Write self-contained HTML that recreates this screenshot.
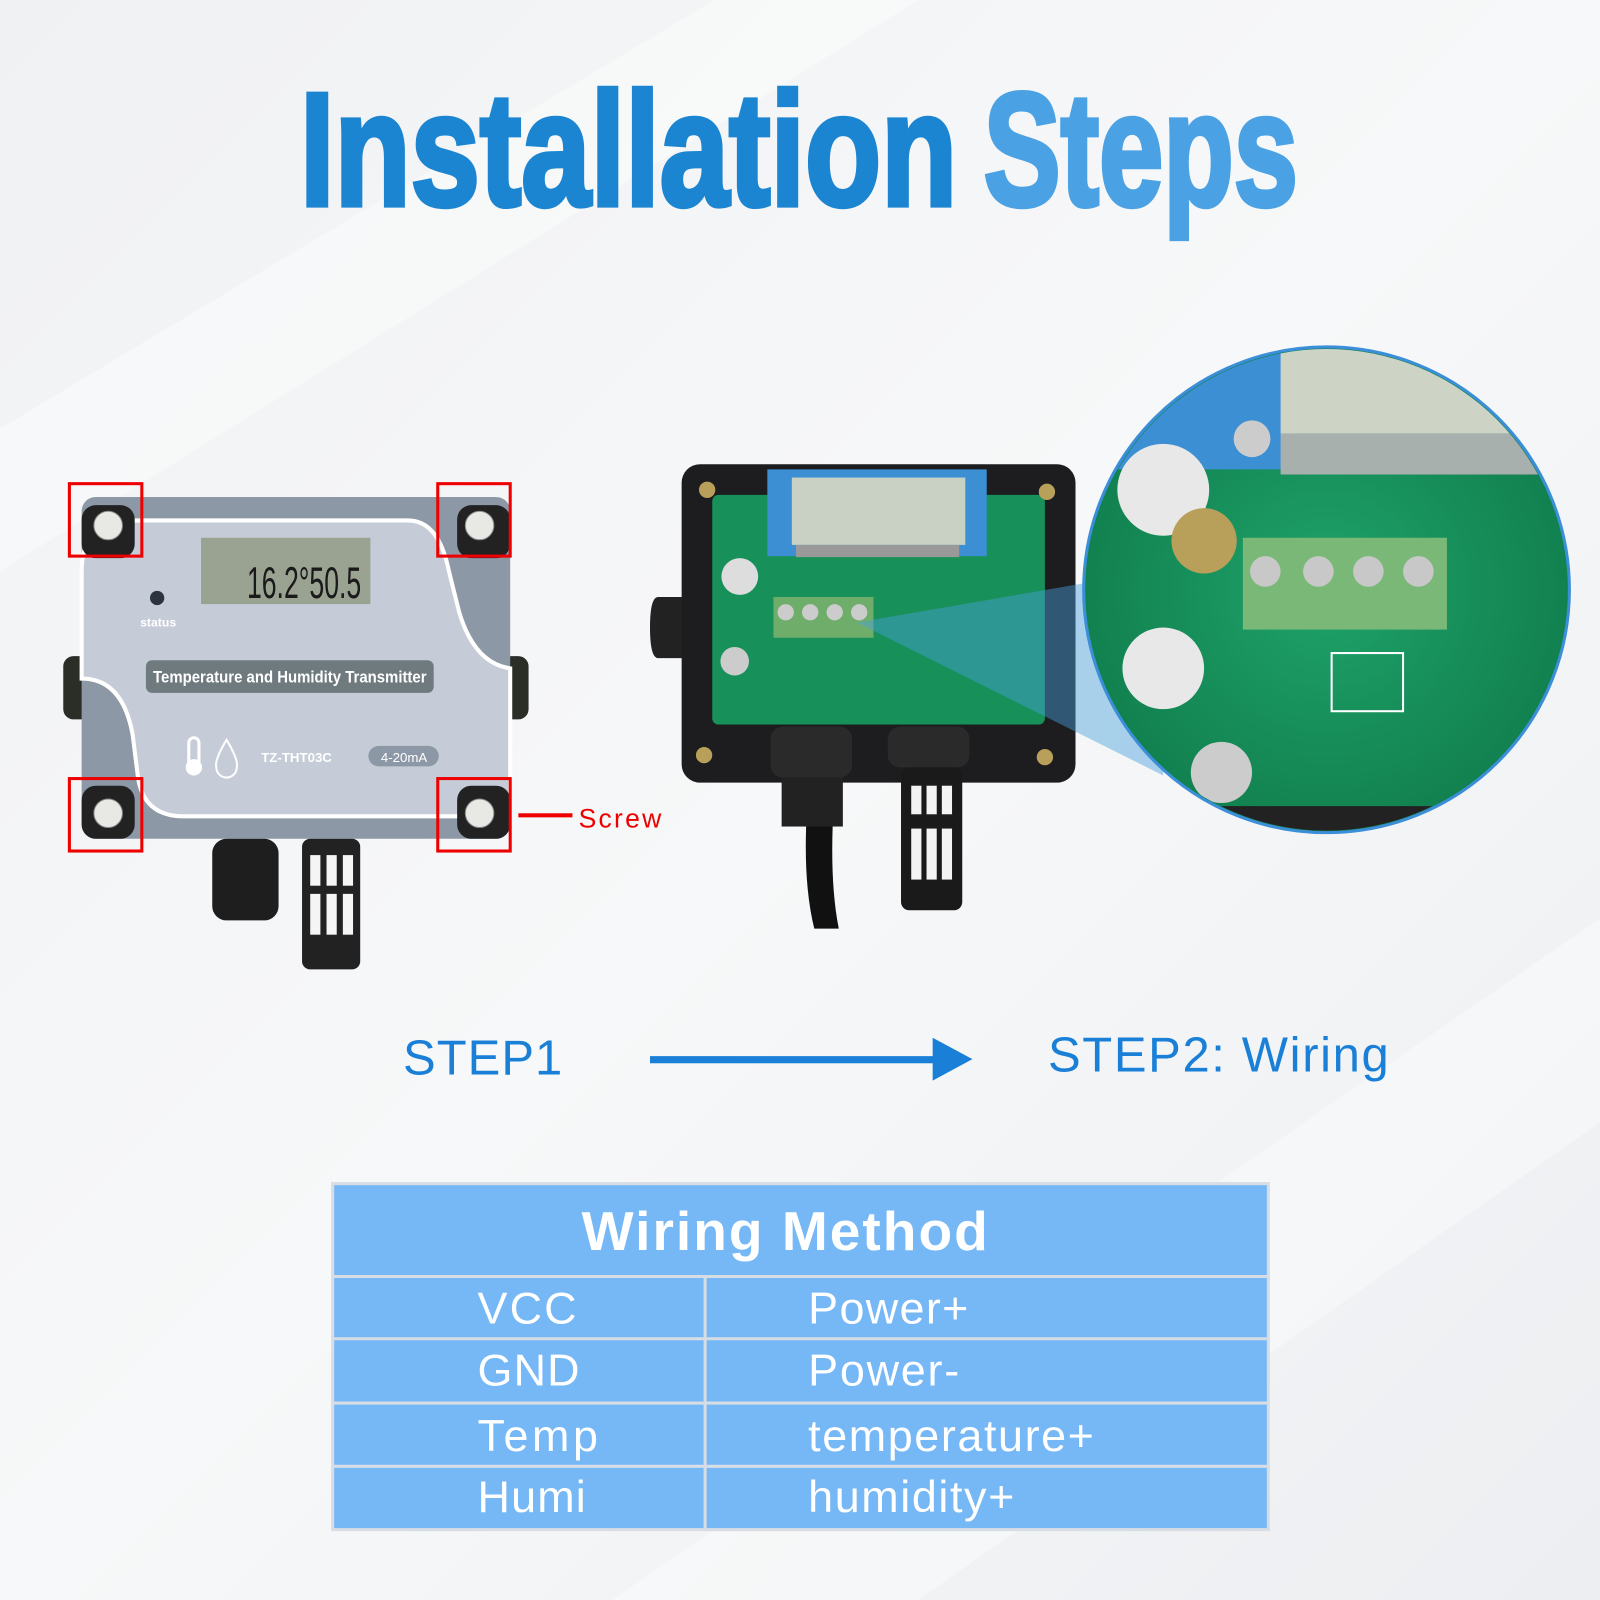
<!DOCTYPE html>
<html><head><meta charset="utf-8"><style>
html,body{margin:0;padding:0;width:1600px;height:1600px;overflow:hidden;background:#f3f4f6}
svg{display:block}
</style></head><body>
<svg width="1600" height="1600" viewBox="0 0 1568 1568" xmlns="http://www.w3.org/2000/svg">
<defs>
<linearGradient id="bg" x1="0" y1="0" x2="1" y2="1">
<stop offset="0" stop-color="#f0f1f3"/><stop offset="0.5" stop-color="#f7f8f9"/><stop offset="1" stop-color="#eceef1"/></linearGradient>
<radialGradient id="pcb" cx="0.5" cy="0.5" r="0.6"><stop offset="0" stop-color="#1fa36a"/><stop offset="1" stop-color="#0f7a4a"/></radialGradient>
</defs>
<rect width="1568" height="1568" fill="url(#bg)"/>
<polygon points="0,420 700,0 900,0 0,560" fill="#fafbfc" opacity="0.6"/>
<polygon points="600,1568 1568,900 1568,1100 900,1568" fill="#fafbfc" opacity="0.5"/>

<!-- Title -->
<text x="294" y="201" font-family="Liberation Sans Narrow, Liberation Sans, sans-serif" font-weight="bold" font-size="158" fill="#1b85d2" stroke="#1b85d2" stroke-width="5" textLength="644" lengthAdjust="spacingAndGlyphs">Installation</text>
<text x="964" y="201" font-family="Liberation Sans Narrow, Liberation Sans, sans-serif" font-weight="bold" font-size="158" fill="#4aa1e3" stroke="#4aa1e3" stroke-width="5" textLength="308" lengthAdjust="spacingAndGlyphs">Steps</text>

<!-- Left device -->
<rect x="62" y="643" width="30" height="62" rx="10" fill="#2a2e26"/>
<rect x="490" y="643" width="28" height="62" rx="10" fill="#2a2e26"/>
<rect x="80" y="487" width="420" height="335" rx="14" fill="#8d98a6"/>
<path d="M130,510 L400,510 Q430,510 440,560 L450,600 Q465,650 500,655 L500,800 L180,800 Q140,800 135,760 L130,720 Q120,665 80,665 L80,560 Q80,510 130,510Z" fill="#c5ccd7" stroke="#fff" stroke-width="4"/>
<rect x="197" y="527" width="166" height="65" fill="#9aa392"/>
<text x="242" y="586" font-family="Liberation Sans Narrow, sans-serif" font-size="44" fill="#1a1a1a" textLength="112" lengthAdjust="spacingAndGlyphs">16.2°50.5</text>
<circle cx="154" cy="586" r="7" fill="#2c3440"/>
<text x="155" y="614" text-anchor="middle" font-family="Liberation Sans, sans-serif" font-size="12" font-weight="bold" fill="#fff">status</text>
<rect x="143" y="647" width="282" height="32" rx="6" fill="#6f7a7f"/>
<text x="150" y="669" font-family="Liberation Sans Narrow, sans-serif" font-weight="bold" font-size="16" fill="#fff" textLength="268" lengthAdjust="spacingAndGlyphs">Temperature and Humidity Transmitter</text>
<text x="256" y="747" font-family="Liberation Sans, sans-serif" font-weight="bold" font-size="13" fill="#fff">TZ-THT03C</text>
<rect x="361" y="731" width="69" height="20" rx="10" fill="#8d98a6"/>
<text x="396" y="747" text-anchor="middle" font-family="Liberation Sans, sans-serif" font-size="13" fill="#fff">4-20mA</text>
<rect x="185" y="723" width="10" height="30" rx="5" fill="none" stroke="#fff" stroke-width="3"/><circle cx="190" cy="752" r="8" fill="#fff"/>
<path d="M222,725 Q210,745 212,752 A10,10 0 0 0 232,752 Q234,745 222,725Z" fill="none" stroke="#fff" stroke-width="2"/>
<g fill="#222"><rect x="80" y="495" width="52" height="52" rx="14"/><rect x="448" y="495" width="52" height="52" rx="14"/><rect x="80" y="770" width="52" height="52" rx="14"/><rect x="448" y="770" width="52" height="52" rx="14"/></g>
<g fill="#e8e8e4" stroke="#888"><circle cx="106" cy="515" r="14"/><circle cx="470" cy="515" r="14"/><circle cx="106" cy="797" r="14"/><circle cx="470" cy="797" r="14"/></g>
<g fill="none" stroke="#e00" stroke-width="3"><rect x="68" y="474" width="71" height="71"/><rect x="429" y="474" width="71" height="71"/><rect x="68" y="763" width="71" height="71"/><rect x="429" y="763" width="71" height="71"/></g>
<rect x="508" y="797" width="53" height="4" fill="#e00"/>
<text x="567" y="811" font-family="Liberation Sans, sans-serif" font-size="26" fill="#e00" textLength="81">Screw</text>
<rect x="208" y="822" width="65" height="80" rx="14" fill="#1e1e1e"/>
<rect x="296" y="822" width="57" height="128" rx="8" fill="#222"/>
<g fill="#f5f5f5"><rect x="304" y="838" width="10" height="30"/><rect x="320" y="838" width="10" height="30"/><rect x="336" y="838" width="10" height="30"/><rect x="304" y="876" width="10" height="40"/><rect x="320" y="876" width="10" height="40"/><rect x="336" y="876" width="10" height="40"/></g>

<!-- Right device -->
<path d="M645,585 h30 v60 h-30 q-8,0 -8,-30 q0,-30 8,-30z" fill="#222"/>
<rect x="668" y="455" width="386" height="312" rx="18" fill="#1d1d1f"/>
<rect x="698" y="485" width="326" height="225" rx="6" fill="#17905a"/>
<path d="M752,460 h215 v85 h-215z" fill="#3d8fd4"/>
<rect x="776" y="468" width="170" height="66" fill="#c9d0c4"/>
<rect x="780" y="534" width="160" height="12" fill="#999"/>
<rect x="758" y="585" width="98" height="40" fill="#6fae6a"/>
<g fill="#ccc"><circle cx="770" cy="600" r="8"/><circle cx="794" cy="600" r="8"/><circle cx="818" cy="600" r="8"/><circle cx="842" cy="600" r="8"/></g>
<circle cx="720" cy="648" r="14" fill="#ccc"/><circle cx="725" cy="565" r="18" fill="#ddd"/>
<g fill="#b9a05a"><circle cx="693" cy="480" r="8"/><circle cx="1026" cy="482" r="8"/><circle cx="690" cy="740" r="8"/><circle cx="1024" cy="742" r="8"/></g>
<rect x="755" y="712" width="80" height="50" rx="12" fill="#2a2a2a"/>
<rect x="870" y="712" width="80" height="40" rx="12" fill="#2a2a2a"/>
<rect x="766" y="762" width="60" height="48" fill="#222"/>
<path d="M790,810 q-2,60 8,100 h24 q-8,-40 -6,-100z" fill="#111"/>
<rect x="883" y="752" width="60" height="140" rx="8" fill="#1a1a1a"/>
<g fill="#f3f3f3"><rect x="893" y="770" width="10" height="28"/><rect x="908" y="770" width="10" height="28"/><rect x="923" y="770" width="10" height="28"/><rect x="893" y="812" width="10" height="50"/><rect x="908" y="812" width="10" height="50"/><rect x="923" y="812" width="10" height="50"/></g>
<polygon points="840,610 1130,560 1140,760" fill="#4a9fdc" opacity="0.45"/>

<!-- Zoom circle -->
<circle cx="1300" cy="578" r="238" fill="url(#pcb)" stroke="#3b8ed8" stroke-width="3"/>
<clipPath id="cc"><circle cx="1300" cy="578" r="236"/></clipPath>
<g clip-path="url(#cc)">
<rect x="1090" y="340" width="180" height="120" fill="#3d8fd4"/>
<rect x="1255" y="340" width="260" height="85" fill="#cdd4c6"/>
<rect x="1255" y="425" width="260" height="40" fill="#a8b0ad"/>
<rect x="1218" y="527" width="200" height="90" fill="#79b877"/>
<g fill="#c8c8c8"><circle cx="1240" cy="560" r="15"/><circle cx="1292" cy="560" r="15"/><circle cx="1341" cy="560" r="15"/><circle cx="1390" cy="560" r="15"/></g>
<circle cx="1140" cy="480" r="45" fill="#e8e8e8"/><circle cx="1180" cy="530" r="32" fill="#b9a05a"/>
<circle cx="1140" cy="655" r="40" fill="#e8e8e8"/>
<circle cx="1197" cy="757" r="30" fill="#ccc"/>
<circle cx="1227" cy="430" r="18" fill="#ccc"/>
<rect x="1090" y="790" width="420" height="40" fill="#222"/>
<g fill="none" stroke="#fff" stroke-width="2"><rect x="1305" y="640" width="70" height="57"/></g>
</g>

<!-- Steps -->
<text x="395" y="1053" font-family="Liberation Sans, sans-serif" font-size="48" fill="#1a7fd6" textLength="156">STEP1</text>
<rect x="637" y="1035" width="282" height="7" fill="#1a7fd6"/>
<polygon points="914,1017 953,1038 914,1059" fill="#1a7fd6"/>
<text x="1027" y="1050" font-family="Liberation Sans, sans-serif" font-size="48" fill="#1a7fd6" textLength="334">STEP2: Wiring</text>

<!-- Table -->
<rect x="325" y="1159" width="919" height="341" fill="#76b7f6"/>
<g stroke="#d6dde4" stroke-width="3" fill="none">
<rect x="326" y="1160" width="917" height="339"/>
<line x1="326" y1="1251" x2="1243" y2="1251"/>
<line x1="326" y1="1312" x2="1243" y2="1312"/>
<line x1="326" y1="1375" x2="1243" y2="1375"/>
<line x1="326" y1="1437" x2="1243" y2="1437"/>
<line x1="691" y1="1251" x2="691" y2="1499"/>
</g>
<g font-family="Liberation Sans, sans-serif" fill="#fff" font-size="44">
<text x="570" y="1225" font-weight="bold" font-size="54" textLength="398">Wiring Method</text>
<text x="468" y="1297" textLength="97">VCC</text><text x="792" y="1297" textLength="157">Power+</text>
<text x="468" y="1358" textLength="100">GND</text><text x="792" y="1358" textLength="148">Power-</text>
<text x="468" y="1422" textLength="118">Temp</text><text x="792" y="1422" textLength="280">temperature+</text>
<text x="468" y="1482" textLength="106">Humi</text><text x="792" y="1482" textLength="202">humidity+</text>
</g>
</svg>
</body></html>
